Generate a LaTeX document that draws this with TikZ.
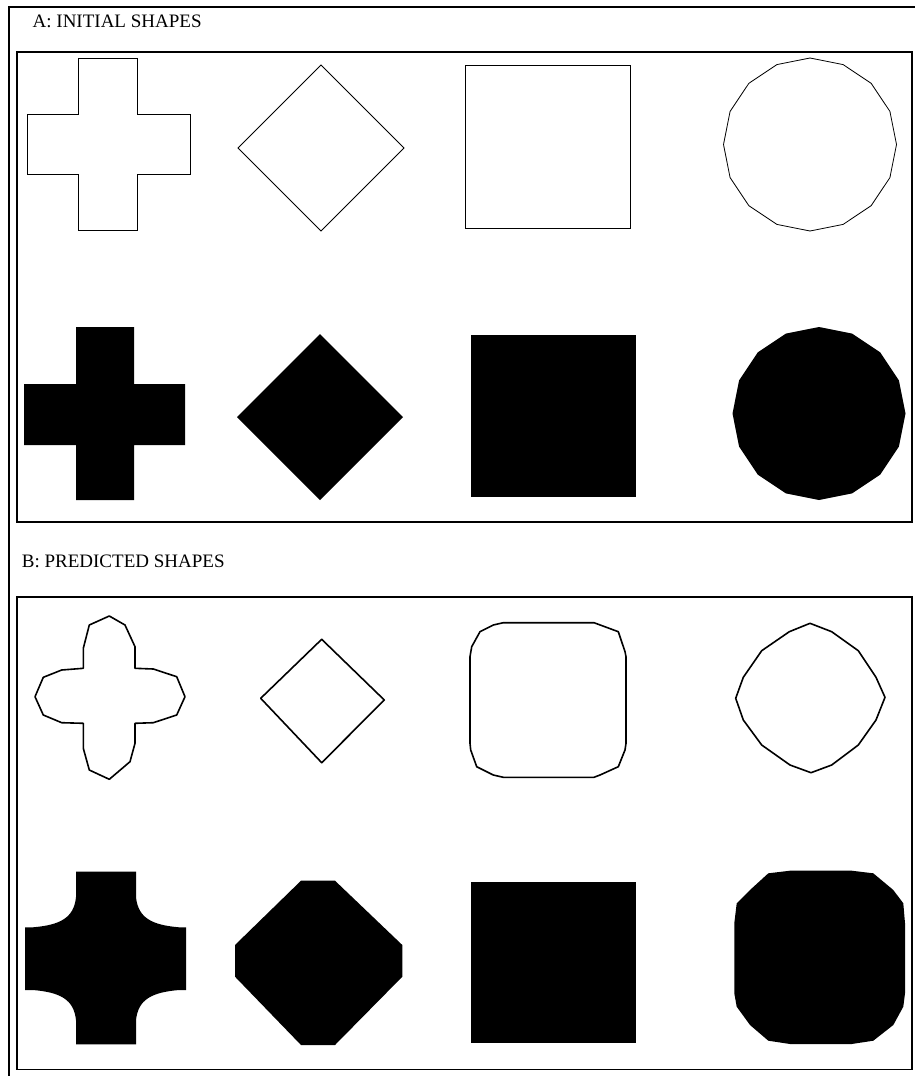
\documentclass[tikz,border=0pt]{standalone}
\usepackage{fontspec}
\setmainfont{Liberation Serif}

\begin{document}
\begin{tikzpicture}[x=1pt,y=-1pt,
  framebox/.style={draw,line width=1.6pt},
  thinoutline/.style={draw,line width=0.8pt},
  boldoutline/.style={draw,line width=1.6pt,line join=round},
  solidfill/.style={fill=black},
  paneltitle/.style={anchor=base west,inner sep=0pt,font=\fontsize{19}{22}\selectfont}]
  \useasboundingbox (0,0) rectangle (915,1076);
  \clip (0,0) rectangle (915,1076);
  \draw[framebox] (9,7) rectangle (940,1100);
  \node[paneltitle] (titleA) at (32.5,27.3) {A: INITIAL SHAPES};
  \draw[framebox] (17,52) rectangle (912,522);
  \node[paneltitle] (titleB) at (21.7,567.3) {B: PREDICTED SHAPES};
  \draw[framebox] (17,597) rectangle (912,1069.3);
  \draw[thinoutline] (78,58) -- (137,58) -- (137,114) -- (190,114) -- (190,174) -- (137,174) -- (137,230) -- (78,230) -- (78,174) -- (27,174) -- (27,114) -- (78,114) -- cycle;
  \draw[thinoutline] (321,65) -- (404,148) -- (321,231) -- (238,148) -- cycle;
  \draw[thinoutline] (465,65) rectangle (630,228);
  \draw[thinoutline] plot[samples=17,domain=0:360] ({810+86.5*cos(\x)},{144.5+86.5*sin(\x)}) -- cycle;
  \fill[solidfill] (76,327) -- (134,327) -- (134,384) -- (185,384) -- (185,445) -- (134,445) -- (134,500) -- (76,500) -- (76,445) -- (24,445) -- (24,384) -- (76,384) -- cycle;
  \fill[solidfill] (320,334) -- (403,417) -- (320,500) -- (237,417) -- cycle;
  \fill[solidfill] (471,335) rectangle (636,497);
  \fill[solidfill] plot[samples=17,domain=0:360] ({819+86.5*cos(\x)},{413.5+86.5*sin(\x)}) -- cycle;
  \draw[boldoutline] (109.3,616) -- (125,625) -- (135,646.7) -- (135,668.3) -- (153.3,669) -- (176.7,676.7) -- (185,696.7) -- (176.7,715) -- (153.3,722.7) -- (135,723.3) -- (135,743.3) -- (130,761.7) -- (109.3,779.3) -- (89.3,770) -- (83.3,748.3) -- (83.3,723.3) -- (61.7,722.7) -- (43.3,715) -- (35,696.7) -- (43.3,677.3) -- (61.7,670) -- (83.3,668.3) -- (83.3,648.3) -- (89.3,625) -- cycle;
  \draw[boldoutline] (321.7,639.3) -- (384.3,700) -- (321.7,762.7) -- (260.7,698.3) -- cycle;
  \draw[boldoutline] (503.3,622.7) -- (594,622.7) -- (618.3,631.7) -- (625,651.7) -- (626,656.7) -- (626,743.3) -- (625,750) -- (618.3,766.7) -- (600,775) -- (594,777.3) -- (503.3,777.3) -- (493.3,775) -- (476.7,766.7) -- (470.7,750) -- (470,743.3) -- (470,656.7) -- (471.7,646.7) -- (480,631.7) -- (493.3,625) -- cycle;
  \draw[boldoutline] (810,623.3) -- (831.7,631.7) -- (858.3,650.7) -- (876,677.3) -- (885,697.3) -- (876,720) -- (858.3,745) -- (831.7,765) -- (811,772.7) -- (790,765) -- (761.7,745) -- (743.3,720) -- (735.7,698.3) -- (743.3,677.3) -- (761.7,650.7) -- (789.3,631.7) -- cycle;
  \fill[solidfill] (76,871.7) -- (136,871.7) -- (136,897) .. controls (138,918) and (152,925) .. (179,927.3) -- (186,927.3) -- (186,990) -- (179,990) .. controls (152,992.3) and (138,999.3) .. (136,1020.3) -- (136,1044.3) -- (76,1044.3) -- (76,1020.3) .. controls (74,999.3) and (60,992.3) .. (33,990) -- (25,990) -- (25,927.3) -- (33,927.3) .. controls (60,925) and (74,918) .. (76,897) -- cycle;
  \fill[solidfill] (301,880.7) -- (335,880.7) -- (402.3,945) -- (402.3,976.7) -- (335,1045) -- (301,1045) -- (235,976.7) -- (235,945) -- cycle;
  \fill[solidfill] (471,882) rectangle (636,1043);
  \fill[solidfill] (768.3,873.3) -- (790,870.7) -- (851.7,870.7) -- (873.3,873.3) -- (893.3,890) -- (903.3,903.3) -- (905,923.3) -- (905,993.3) -- (903.3,1006.7) -- (893.3,1025) -- (873.3,1040.7) -- (851.7,1044) -- (790,1044) -- (768.3,1040.7) -- (750,1025) -- (736.7,1006.7) -- (734.3,993.3) -- (734.3,923.3) -- (736.7,903.3) -- (750,890) -- cycle;
\end{tikzpicture}
\end{document}
